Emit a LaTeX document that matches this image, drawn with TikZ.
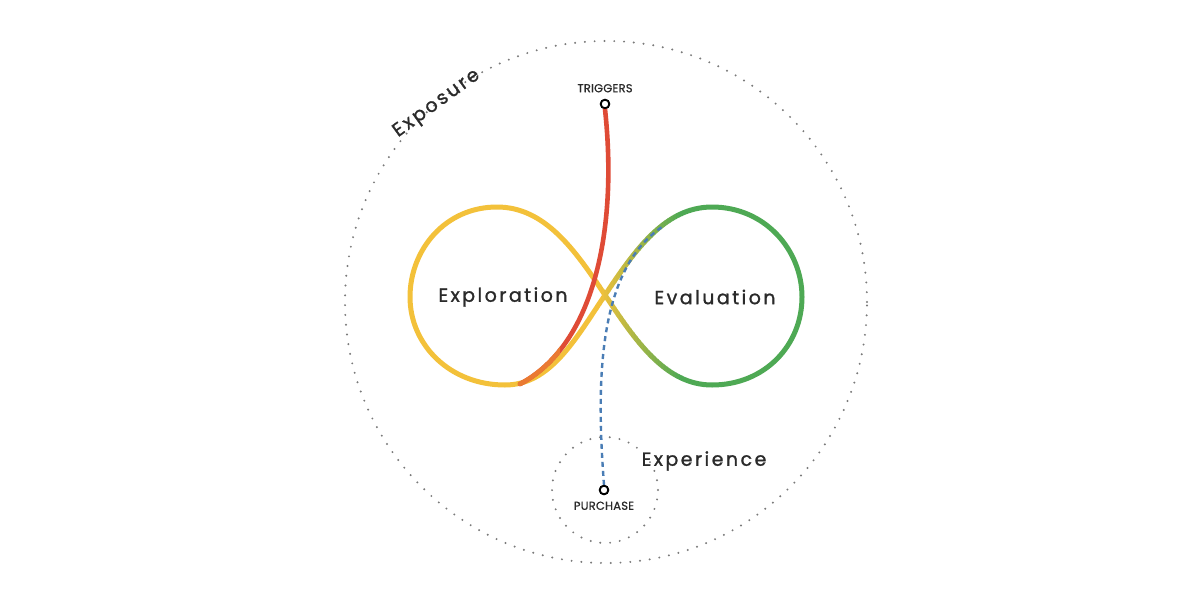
\documentclass[tikz,border=0pt]{standalone}
\usepackage{fontspec}
\newfontfamily\lab[LetterSpace=13,FakeBold=1.2]{Poppins}
\newfontfamily\smlab[LetterSpace=2,FakeBold=0.8]{Poppins}
\definecolor{iyel}{HTML}{F3C13A}
\definecolor{igrn}{HTML}{4EA954}
\definecolor{ired}{HTML}{DF4B36}
\definecolor{iora}{HTML}{EA7A32}
\definecolor{iblu}{HTML}{4A7DB5}
\definecolor{idot}{HTML}{7A7A7A}
\definecolor{itxt}{HTML}{2A2A2A}
\usetikzlibrary{positioning}
\begin{document}
\begin{tikzpicture}[x=1pt,y=-1pt,
  dotted circ/.style={draw=idot,line width=2.2pt,line cap=round,dash pattern=on 0pt off 9.8pt},
  loopline/.style={line width=5pt,line cap=round},
  biglabel/.style={text=itxt,font=\lab\fontsize{19}{22}\selectfont},
  smalllabel/.style={text=itxt,font=\smlab\fontsize{11.5}{13}\selectfont},
  pin/.style={circle,draw=black,fill=white,line width=1.8pt,minimum size=8.5pt,inner sep=0pt}]
\useasboundingbox (0,0) rectangle (1200,600);
\fill[white] (0,0) rectangle (1200,600);
\node[dotted circ,circle,minimum size=522pt] (expo) at (606,302) {};
\node[dotted circ,circle,minimum size=106pt] (expe) at (605,490) {};
\def\infpath{(605,295) .. controls (635,250) and (665,207) .. (712,207) .. controls (765,207) and (802,250) .. (802,297) .. controls (802,345) and (765,385) .. (712,385) .. controls (665,385) and (635,340) .. (605,295) .. controls (575,250) and (545,207) .. (497,207) .. controls (445,207) and (410,250) .. (410,297) .. controls (410,345) and (450,385) .. (505,385) .. controls (550,385) and (575,340) .. (605,295) -- cycle}
\begin{scope}
\clip (0,0) rectangle (598,600);
\draw[loopline,iyel] \infpath;
\end{scope}
\begin{scope}
\clip (682,0) rectangle (1200,600);
\draw[loopline,igrn] \infpath;
\end{scope}
\foreach \i in {0,...,27}{
  \pgfmathsetmacro{\xa}{598+3*\i}
  \pgfmathsetmacro{\pc}{100-100*\i/27}
  \begin{scope}
  \clip (\xa,0) rectangle (\xa+3.4,600);
  \draw[loopline,iyel!\pc!igrn] \infpath;
  \end{scope}
}
\node[pin] (trig) at (605,104) {};
\node[pin] (purch) at (604,490) {};
\coordinate (redend) at (520,384);
\coordinate (bluend) at (662,227);
\draw[line width=4.6pt,line cap=round,ired] (trig.south) .. controls (618,230) and (594,345) .. (redend);
\begin{scope}
\clip (500,340) rectangle (560,400);
\draw[line width=4.6pt,line cap=round,iora] (trig.south) .. controls (618,230) and (594,345) .. (redend);
\end{scope}
\draw[line width=2.4pt,iblu,dash pattern=on 5pt off 4pt] (purch.north) .. controls (596,380) and (598,270) .. (bluend);
\node[pin] at (605,104) {};
\node[pin] at (604,490) {};
\node[smalllabel,above=3pt of trig] (tl) {TRIGGERS};
\node[smalllabel,below=3pt of purch] (pl) {PURCHASE};
\node[biglabel] (exl) at (503,297) {Exploration};
\node[biglabel] (evl) at (715,297) {Evaluation};
\node[biglabel] (exp) at (704,461) {Experience};
\node[biglabel,rotate=36] (exs) at (437,104) {Exposure};
\end{tikzpicture}
\end{document}
